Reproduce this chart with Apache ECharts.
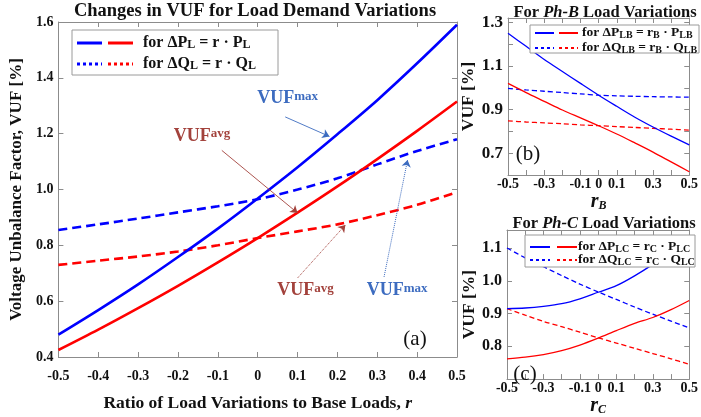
<!DOCTYPE html>
<html>
<head>
<meta charset="utf-8">
<script src="https://cdn.jsdelivr.net/npm/echarts@6/dist/echarts.min.js"></script>
<style>
html,body{margin:0;padding:0;background:#fff;}
#chart{width:701px;height:417px;}
</style>
</head>
<body>
<div id="chart"></div>
<script>
// ---------- data ----------
const rVals = [-0.5, -0.4, -0.3, -0.2, -0.1, 0, 0.1, 0.2, 0.3, 0.4, 0.5];
// (a) all loads varied
const aMaxP = [0.48, 0.568, 0.66, 0.758, 0.86, 0.968, 1.08, 1.198, 1.32, 1.452, 1.59];
const aAvgP = [0.425, 0.498, 0.575, 0.655, 0.739, 0.826, 0.917, 1.011, 1.109, 1.21, 1.315];
const aMaxQ = [0.855, 0.875, 0.896, 0.918, 0.94, 0.965, 1.0, 1.04, 1.09, 1.138, 1.18];
const aAvgQ = [0.73, 0.745, 0.76, 0.778, 0.8, 0.826, 0.85, 0.875, 0.908, 0.945, 0.99];
// (b) Ph-B loads varied
const bMaxP = [1.25, 1.19, 1.13, 1.075, 1.02, 0.966, 0.915, 0.865, 0.82, 0.778, 0.738];
const bAvgP = [1.02, 0.978, 0.938, 0.898, 0.862, 0.826, 0.788, 0.747, 0.705, 0.66, 0.615];
const bMaxQ = [0.997, 0.99, 0.984, 0.978, 0.972, 0.966, 0.963, 0.961, 0.959, 0.958, 0.957];
const bAvgQ = [0.848, 0.843, 0.839, 0.835, 0.83, 0.826, 0.822, 0.818, 0.814, 0.81, 0.806];
// (c) Ph-C loads varied
const cMaxP = [0.915, 0.917, 0.922, 0.93, 0.945, 0.965, 0.985, 1.015, 1.05, 1.09, 1.135];
const cAvgP = [0.762, 0.767, 0.775, 0.787, 0.804, 0.825, 0.848, 0.87, 0.888, 0.912, 0.94];
const cMaxQ = [1.1, 1.07, 1.043, 1.016, 0.99, 0.966, 0.943, 0.92, 0.898, 0.877, 0.856];
const cAvgQ = [0.915, 0.895, 0.876, 0.86, 0.843, 0.826, 0.81, 0.794, 0.778, 0.762, 0.745];
// tick labels
const aXLabels = ['-0.5','-0.4','-0.3','-0.2','-0.1','0','0.1','0.2','0.3','0.4','0.5'];
const aXRaised = ['0.4','0.5'];
const aYLabels = ['0.4','0.6','0.8','1.0','1.2','1.4','1.6'];
const smallXLabels = ['-0.5','-0.3','-0.1','0','0.1','0.3','0.5'];
const bYLabels = ['0.7','0.9','1.1','1.3'];
const cYLabels = ['0.8','0.9','1.0','1.1'];

// ---------- helpers ----------
const FF = '"Liberation Serif", "Times New Roman", serif';
const BLUE = '#0000ff', RED = '#ff0000', GREY = '#8c8c8c';
const ANN_BLUE = '#3d6cc0', ANN_RED = '#a3423c';
const pairs = ys => rVals.map((r, i) => [r, ys[i]]);
const fmtX = v => String(Math.round(v * 10) / 10);
const fmtY = v => (Math.round(v * 10) / 10).toFixed(1);

function xAx(grid, pos, labels, fs, margin, extra, raised) {
  return Object.assign({
    type: 'value', gridIndex: grid, position: pos, min: -0.5, max: 0.5, interval: 0.1,
    axisLine: { show: true, onZero: false, lineStyle: { color: GREY, width: 1 } },
    axisTick: { show: true, inside: true, length: 5, lineStyle: { color: GREY } },
    splitLine: { show: false },
    axisLabel: labels ? {
      show: true, margin: margin, color: '#111', fontFamily: FF, fontWeight: 'bold', fontSize: fs,
      rich: { up: { fontFamily: FF, fontWeight: 'bold', fontSize: fs, color: '#111', padding: [0, 0, 14, 0] } },
      formatter: v => {
        const s = fmtX(v);
        if (!labels.includes(s)) return '';
        return (raised && raised.includes(s)) ? '{up|' + s + '}' : s;
      }
    } : { show: false }
  }, extra || {});
}
function yAx(grid, pos, min, max, interval, labels, fs, extra) {
  return Object.assign({
    type: 'value', gridIndex: grid, position: pos, min: min, max: max, interval: interval,
    axisLine: { show: true, onZero: false, lineStyle: { color: GREY, width: 1 } },
    axisTick: { show: true, inside: true, length: 5, lineStyle: { color: GREY } },
    splitLine: { show: false },
    axisLabel: labels ? {
      show: true, margin: 5, color: '#111', fontFamily: FF, fontWeight: 'bold', fontSize: fs,
      formatter: v => { const s = fmtY(v); return (labels.includes(s) && Math.abs(v - parseFloat(s)) < 1e-6) ? s : ''; }
    } : { show: false }
  }, extra || {});
}
function line(xi, data, color, dashed, width, extra) {
  return Object.assign({
    type: 'line', xAxisIndex: xi, yAxisIndex: xi, data: pairs(data), smooth: 0.3,
    symbol: 'none', silent: true, animation: false,
    lineStyle: { color: color, width: width, type: dashed ? dashed : 'solid' }, z: 3
  }, extra || {});
}
const supRich = (color) => ({
  a: { fontFamily: FF, fontWeight: 'bold', fontSize: 18, color: color, verticalAlign: 'bottom' },
  b: { fontFamily: FF, fontWeight: 'bold', fontSize: 13, color: color, verticalAlign: 'top' }
});
const arrow = (from, to, color, type) => [
  { coord: from, lineStyle: { color: color, width: type === 'solid' ? 0.9 : 1, type: type } },
  { coord: to }
];

// ---------- axis names ----------
const axisNameStyle = { fontFamily: FF, fontWeight: 'bold', fontSize: 17, color: '#111' };
const subName = (letter) => ({
  name: '{i|r}{s|' + letter + '}', nameLocation: 'middle', nameGap: 14,
  nameTextStyle: {
    rich: {
      i: { fontFamily: FF, fontWeight: 'bold', fontStyle: 'italic', fontSize: 20, color: '#111', verticalAlign: 'bottom' },
      s: { fontFamily: FF, fontWeight: 'bold', fontStyle: 'italic', fontSize: 12, color: '#111', verticalAlign: 'bottom' }
    }
  }
});

// ---------- legend graphic ----------
function legend(x, y, w, h, rows, lineLen, gap, textX, fs, sfs, lw) {
  const els = [{ type: 'rect', shape: { x: x, y: y, width: w, height: h }, style: { fill: '#fff', stroke: '#9a9a9a', lineWidth: 1 }, z: 100 }];
  rows.forEach(row => {
    const dash = row.dotted ? [3, 3] : null;
    els.push({ type: 'line', shape: { x1: x + 5, y1: row.y, x2: x + 5 + lineLen, y2: row.y }, style: { stroke: BLUE, lineWidth: lw, lineDash: dash }, z: 101 });
    els.push({ type: 'line', shape: { x1: x + 5 + lineLen + gap, y1: row.y, x2: x + 5 + 2 * lineLen + gap, y2: row.y }, style: { stroke: RED, lineWidth: lw, lineDash: dash }, z: 101 });
    els.push({ type: 'text', x: textX, y: row.y, z: 101, style: {
      text: row.text, fill: '#111', fontFamily: FF, fontWeight: 'bold', fontSize: fs, verticalAlign: 'middle',
      rich: { s: { fontFamily: FF, fontWeight: 'bold', fontSize: sfs, fill: '#111', verticalAlign: 'bottom' } }
    } });
  });
  return els;
}

const titleStyle = (fs) => ({ fill: '#111', fontFamily: FF, fontWeight: 'bold', fontSize: fs, align: 'center', verticalAlign: 'middle',
  rich: { i: { fontFamily: FF, fontWeight: 'bold', fontStyle: 'italic', fontSize: fs, fill: '#111' } } });

const graphics = [].concat(
  [{ type: 'text', x: 255, y: 11, style: Object.assign(titleStyle(18.5), { text: 'Changes in VUF for Load Demand Variations' }) },
   { type: 'text', x: 605, y: 13, style: Object.assign(titleStyle(16.5), { text: 'For {i|Ph-B} Load Variations' }) },
   { type: 'text', x: 604, y: 224, style: Object.assign(titleStyle(16.5), { text: 'For {i|Ph-C} Load Variations' }) },
   { type: 'text', x: 415, y: 339, z: 50, style: { text: '(a)', fill: '#111', fontFamily: FF, fontSize: 21, align: 'center', verticalAlign: 'middle' } },
   { type: 'text', x: 528, y: 154, z: 50, style: { text: '(b)', fill: '#111', fontFamily: FF, fontSize: 21, align: 'center', verticalAlign: 'middle' } },
   { type: 'text', x: 525, y: 374, z: 50, style: { text: '(c)', fill: '#111', fontFamily: FF, fontSize: 21, align: 'center', verticalAlign: 'middle' } }
  ],
  legend(72, 30, 206, 45, [
    { y: 43, text: 'for ΔP{s|L} = r · P{s|L}' },
    { y: 64, text: 'for ΔQ{s|L} = r · Q{s|L}', dotted: true }
  ], 25, 6, 143, 16, 12, 3),
  legend(530, 25, 169, 28, [
    { y: 33, text: 'for ΔP{s|LB} = r{s|B} · P{s|LB}' },
    { y: 48, text: 'for ΔQ{s|LB} = r{s|B} · Q{s|LB}', dotted: true }
  ], 19, 5, 582, 13.5, 10, 2),
  legend(525, 235, 170, 32, [
    { y: 247, text: 'for ΔP{s|LC} = r{s|C} · P{s|LC}' },
    { y: 260, text: 'for ΔQ{s|LC} = r{s|C} · Q{s|LC}', dotted: true }
  ], 20, 7, 578, 13.5, 10, 2)
);

const option = {
  animation: false,
  backgroundColor: '#fff',
  grid: [
    { left: 53, top: 22, width: 404, height: 335 },
    { left: 508, top: 18, width: 192, height: 157 },
    { left: 507, top: 230, width: 192, height: 155 }
  ],
  xAxis: [
    xAx(0, 'bottom', aXLabels, 14, 12, { name: 'Ratio of Load Variations to Base Loads, {i|r}', nameLocation: 'middle', nameGap: 37,
      nameTextStyle: Object.assign({}, axisNameStyle, { fontSize: 17.5, rich: { i: { fontFamily: FF, fontWeight: 'bold', fontStyle: 'italic', fontSize: 17.5, color: '#111' } } }) }, aXRaised),
    xAx(0, 'top', null, 14, 0),
    xAx(1, 'bottom', smallXLabels, 14, 2, subName('B')),
    xAx(1, 'top', null, 14, 0),
    xAx(2, 'bottom', smallXLabels, 14, 2, subName('C')),
    xAx(2, 'top', null, 14, 0)
  ],
  yAxis: [
    yAx(0, 'left', 0.4, 1.6, 0.2, aYLabels, 14, { name: 'Voltage Unbalance Factor, VUF [%]', nameLocation: 'middle', nameGap: 29, nameTextStyle: axisNameStyle }),
    yAx(0, 'right', 0.4, 1.6, 0.2, null, 14),
    yAx(1, 'left', 0.6, 1.32, 0.1, bYLabels, 17, { name: 'VUF [%]', nameLocation: 'middle', nameGap: 22, nameTextStyle: Object.assign({}, axisNameStyle, { fontSize: 17.5 }) }),
    yAx(1, 'right', 0.6, 1.32, 0.1, null, 14),
    yAx(2, 'left', 0.7, 1.155, 0.1, cYLabels, 16, { name: 'VUF [%]', nameLocation: 'middle', nameGap: 22, nameTextStyle: Object.assign({}, axisNameStyle, { fontSize: 17.5 }) }),
    yAx(2, 'right', 0.7, 1.155, 0.1, null, 14)
  ],
  graphic: graphics,
  series: [
    line(0, aMaxQ, BLUE, [9, 5], 2.6),
    line(0, aAvgQ, RED, [9, 5], 2.6),
    line(0, aMaxP, BLUE, null, 2.6, {
      markLine: {
        silent: true, animation: false, symbol: ['none', 'arrow'], symbolSize: 7, label: { show: false },
        data: [
          arrow([0.069, 1.26], [0.18, 1.19], ANN_BLUE, 'solid'),
          arrow([-0.09, 1.14], [0.1, 0.916], ANN_RED, 'solid'),
          arrow([0.1, 0.683], [0.22, 0.873], ANN_RED, 'dotted'),
          arrow([0.317, 0.687], [0.376, 1.106], ANN_BLUE, 'dotted')
        ]
      },
      markPoint: {
        silent: true, animation: false, symbol: 'circle', symbolSize: 1, itemStyle: { color: 'rgba(0,0,0,0)' },
        data: [
          { coord: [0.075, 1.325], label: { show: true, position: 'inside', formatter: '{a|VUF}{b|max}', rich: supRich(ANN_BLUE) } },
          { coord: [-0.14, 1.19], label: { show: true, position: 'inside', formatter: '{a|VUF}{b|avg}', rich: supRich(ANN_RED) } },
          { coord: [0.12, 0.637], label: { show: true, position: 'inside', formatter: '{a|VUF}{b|avg}', rich: supRich(ANN_RED) } },
          { coord: [0.35, 0.637], label: { show: true, position: 'inside', formatter: '{a|VUF}{b|max}', rich: supRich(ANN_BLUE) } }
        ]
      }
    }),
    line(0, aAvgP, RED, null, 2.6),
    line(2, bMaxQ, BLUE, [5, 3], 1.3),
    line(2, bAvgQ, RED, [5, 3], 1.3),
    line(2, bMaxP, BLUE, null, 1.3),
    line(2, bAvgP, RED, null, 1.3),
    line(4, cMaxQ, BLUE, [5, 3], 1.3),
    line(4, cAvgQ, RED, [5, 3], 1.3),
    line(4, cMaxP, BLUE, null, 1.3),
    line(4, cAvgP, RED, null, 1.3)
  ]
};
const chart = echarts.init(document.getElementById('chart'), null, { renderer: 'canvas' });
chart.setOption(option);
</script>
</body>
</html>
